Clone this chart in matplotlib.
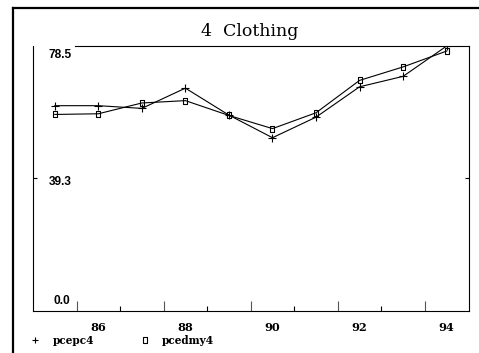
import matplotlib
matplotlib.use("Agg")
import matplotlib.pyplot as plt
from matplotlib.lines import Line2D
from matplotlib.path import Path

# Clothing series, 1985-1994
years = [85, 86, 87, 88, 89, 90, 91, 92, 93, 94]
pcepc4 = [60.8, 60.8, 60.0, 66.0, 58.0, 51.3, 57.4, 66.4, 69.5, 78.5]
pcedmy4 = [58.2, 58.4, 61.6, 62.3, 57.9, 54.0, 58.7, 68.3, 72.3, 77.0]

title = "4  Clothing"
series_names = ["pcepc4", "pcedmy4"]
ytick_vals = [0.0, 39.3, 78.5]
ytick_labels = ["0.0", "39.3", "78.5"]
xlabel_years = [86, 88, 90, 92, 94]
xmajor_marks = [85.5, 87.5, 89.5, 91.5, 93.5]
xminor_marks = [86.5, 88.5, 90.5, 92.5]

W, H = 479, 353
fig = plt.figure(figsize=(W / 100, H / 100), dpi=100)
ax = fig.add_axes([33 / W, 1 - 310.7 / H, (469.3 - 33) / W, (310.7 - 46) / H])

box = Path([(-0.32, -0.5), (0.32, -0.5), (0.32, 0.5), (-0.32, 0.5), (-0.32, -0.5)],
           [Path.MOVETO, Path.LINETO, Path.LINETO, Path.LINETO, Path.CLOSEPOLY])

ax.plot(years, pcepc4, color="black", lw=0.8, marker="+", ms=5.5, mew=0.8)
ax.plot(years, pcedmy4, color="black", lw=0.8, marker=box, ms=4.2, mew=0.8,
        mfc="none")

ax.set_xlim(84.5, 94.52)
ax.set_ylim(0, 78.5)

for s in ax.spines.values():
    s.set_linewidth(0.8)
ax.spines["top"].set_bounds(85.47, 94.52)

# x labels at whole years, tick marks at half years
ax.set_xticks(xlabel_years)
ax.set_xticklabels([str(y) for y in xlabel_years], family="DejaVu Serif",
                   fontweight="bold", fontsize=8.2)
ax.tick_params(axis="x", length=0, pad=8)
sec = ax.secondary_xaxis("bottom")
sec.set_xticks(xmajor_marks)
sec.set_xticks(xminor_marks, minor=True)
sec.tick_params(axis="x", which="major", direction="in", length=7, width=0.8,
                labelbottom=False, color="#555555")
sec.tick_params(axis="x", which="minor", direction="in", length=3.5, width=0.8,
                labelbottom=False)
sec.spines["bottom"].set_visible(False)

# y ticks: marks on both sides at the midpoint, labels inside the frame
ax.set_yticks([ytick_vals[1]])
ax.set_yticklabels([])
ax.tick_params(axis="y", direction="in", length=3, width=0.8, left=True,
               right=True)
tr = ax.get_yaxis_transform()
label_dx = [37, 39, 39]
label_dy = [10.0, -4.0, -9.0]
for v, lab, dx, dy in zip(ytick_vals, ytick_labels, label_dx, label_dy):
    ax.annotate(lab, xy=(0, v), xycoords=tr, xytext=(dx, dy),
                textcoords="offset pixels", ha="right", va="center",
                fontsize=8.6, fontweight="bold", family="Liberation Sans")

# outer frame (left and top rules)
fig.add_artist(Line2D([13 / W, 13 / W], [0, 1 - 8 / H], transform=fig.transFigure,
                      color="black", lw=1.6))
fig.add_artist(Line2D([13 / W, 1], [1 - 8 / H, 1 - 8 / H], transform=fig.transFigure,
                      color="black", lw=1.6))

fig.text(250 / W, 1 - 31 / H, title, ha="center", va="center",
         family="DejaVu Serif", fontsize=12.5)

# legend row
ly = 1 - 340 / H
fig.add_artist(Line2D([35 / W], [ly], transform=fig.transFigure, marker="+",
                      color="black", ms=5, mew=0.8, ls="none"))
fig.text(53 / W, ly, series_names[0], ha="left", va="center",
         family="DejaVu Serif", fontweight="bold", fontsize=7.6)
fig.add_artist(Line2D([145 / W], [ly], transform=fig.transFigure, marker=box,
                      color="black", mfc="none", ms=3.8, mew=0.8, ls="none"))
fig.text(162 / W, ly, series_names[1], ha="left", va="center",
         family="DejaVu Serif", fontweight="bold", fontsize=7.6)

fig.savefig("out.png", dpi=100)
